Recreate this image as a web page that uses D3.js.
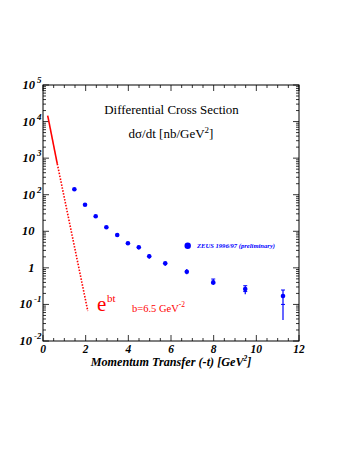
<!DOCTYPE html>
<html>
<head>
<meta charset="utf-8">
<script src="https://cdn.jsdelivr.net/npm/d3@7"></script>
<style>
body { margin: 0; background: #fff; }
text { font-family: "Liberation Serif", "DejaVu Serif", serif; }
</style>
</head>
<body>
<div id="c"></div>
<script>
// ZEUS points: -t, dsigma/dt, total error range
var t_vals  = [1.47, 1.97, 2.47, 2.97, 3.48, 3.98, 4.49, 4.98, 5.73, 6.74, 7.98, 9.48, 11.25];
var y_vals  = [141, 53, 25.7, 12.9, 7.9, 4.7, 3.65, 2.07, 1.33, 0.785, 0.40, 0.264, 0.17];
var err_lo  = [130, 49, 23.5, 11.8, 7.2, 4.2, 3.2, 1.78, 1.15, 0.667, 0.34, 0.189, 0.0375];
var err_hi  = [152, 57, 28, 14, 8.7, 5.2, 4.1, 2.4, 1.47, 0.93, 0.495, 0.325, 0.248];
var stat_lo = [null, null, null, null, null, null, null, null, null, null, 0.37, 0.225, 0.10];

// exp(bt) curve, read at its ends
var fit_solid  = [[0.22, 14500], [0.67, 700]];
var fit_dotted = [[0.67, 700], [2.1, 0.066]];

var x_ticks = [0, 2, 4, 6, 8, 10, 12];
var y_exps  = [-2, -1, 0, 1, 2, 3, 4, 5];

var width = 353, height = 456;
var p_left = 43, p_right = 299, p_top = 85, p_bottom = 341;

var svg = d3.select("#c").append("svg")
	.attr("width", width)
	.attr("height", height);

var x_scale = d3.scaleLinear().domain([0, 12]).range([p_left, p_right]);
var y_scale = d3.scaleLog().domain([0.01, 1e5]).range([p_bottom, p_top]);

// frame
svg.append("rect")
	.attr("x", p_left).attr("y", p_top)
	.attr("width", p_right - p_left).attr("height", p_bottom - p_top)
	.attr("fill", "none").attr("stroke", "#000").attr("stroke-width", 1);

// ticks, log minors on left and right
var minors = [];
for (var e = -2; e < 5; e++) {
	for (var m = 2; m < 10; m++) minors.push(m * Math.pow(10, e));
}
var ay = svg.append("g");
y_exps.forEach(function(e) {
	var y = y_scale(Math.pow(10, e));
	ay.append("line").attr("x1", p_left).attr("x2", p_left + 6).attr("y1", y).attr("y2", y);
	ay.append("line").attr("x1", p_right).attr("x2", p_right - 6).attr("y1", y).attr("y2", y);
});
minors.forEach(function(v) {
	var y = y_scale(v);
	ay.append("line").attr("x1", p_left).attr("x2", p_left + 3).attr("y1", y).attr("y2", y);
	ay.append("line").attr("x1", p_right).attr("x2", p_right - 3).attr("y1", y).attr("y2", y);
});
for (var xv = 0; xv <= 12; xv += 0.5) {
	var len = (xv % 2 === 0) ? 6 : 3;
	var xp = x_scale(xv);
	ay.append("line").attr("x1", xp).attr("x2", xp).attr("y1", p_bottom).attr("y2", p_bottom - len);
	ay.append("line").attr("x1", xp).attr("x2", xp).attr("y1", p_top).attr("y2", p_top + len);
}
ay.selectAll("line").attr("stroke", "#000").attr("stroke-width", 0.8);

// y labels
y_exps.forEach(function(e) {
	var y = y_scale(Math.pow(10, e)) + 4;
	var t = svg.append("text")
		.attr("text-anchor", "end")
		.attr("y", y)
		.attr("font-size", 12.5)
		.attr("font-weight", "bold")
		.attr("font-style", "italic");
	if (e === 0 || e === 1) {
		t.attr("x", 34.5).text(e === 0 ? "1" : "10");
	} else {
		t.attr("x", 41.5);
		t.append("tspan").text("10");
		t.append("tspan").attr("dx", 2).attr("dy", -6).attr("font-size", 9).text(e);
	}
});

// x labels
svg.selectAll(".xl")
	.data(x_ticks)
	.enter()
	.append("text")
	.attr("class", "xl")
	.attr("x", function(d) { return x_scale(d); })
	.attr("y", 353)
	.attr("text-anchor", "middle")
	.attr("font-size", 11.5)
	.attr("font-weight", "bold")
	.attr("font-style", "italic")
	.text(function(d) { return d; });

var xt = svg.append("text")
	.attr("x", 171).attr("y", 366)
	.attr("text-anchor", "middle")
	.attr("font-size", 12.2)
	.attr("font-weight", "bold")
	.attr("font-style", "italic");
xt.append("tspan").text("Momentum Transfer (-t) [GeV");
xt.append("tspan").attr("dy", -5).attr("font-size", 7.5).text("2");
xt.append("tspan").attr("dy", 5).text("]");

// titles inside
svg.append("text")
	.attr("x", 171.5).attr("y", 114)
	.attr("text-anchor", "middle")
	.attr("font-size", 12.9)
	.text("Differential Cross Section");
var st = svg.append("text")
	.attr("x", 171).attr("y", 138)
	.attr("text-anchor", "middle")
	.attr("font-size", 13);
st.append("tspan").text("d\u03c3/dt [nb/GeV");
st.append("tspan").attr("dy", -5).attr("font-size", 9).text("2");
st.append("tspan").attr("dy", 5).text("]");

// fit line
var line = d3.line()
	.x(function(d) { return x_scale(d[0]); })
	.y(function(d) { return y_scale(d[1]); });
svg.append("path").datum(fit_solid)
	.attr("d", line).attr("fill", "none")
	.attr("stroke", "#ff0000").attr("stroke-width", 1.6);
svg.append("path").datum(fit_dotted)
	.attr("d", line).attr("fill", "none")
	.attr("stroke", "#ff0000").attr("stroke-width", 1.6)
	.attr("stroke-dasharray", "1.5,1.5");

svg.append("text").attr("x", 97).attr("y", 311)
	.attr("font-size", 21).attr("fill", "#ff0000").text("e");
svg.append("text").attr("x", 107).attr("y", 302)
	.attr("font-size", 11).attr("fill", "#ff0000").text("bt");
var bt = svg.append("text").attr("x", 132).attr("y", 312)
	.attr("font-size", 10.5).attr("fill", "#ff0000");
bt.append("tspan").text("b=6.5 GeV");
bt.append("tspan").attr("dy", -5).attr("font-size", 7.5).text("-2");

// data points
var pts = t_vals.map(function(t, i) {
	return { t: t, y: y_vals[i], lo: err_lo[i], hi: err_hi[i], s: stat_lo[i] };
});
var g = svg.append("g");
g.selectAll(".eb")
	.data(pts)
	.enter()
	.append("line")
	.attr("x1", function(d) { return x_scale(d.t); })
	.attr("x2", function(d) { return x_scale(d.t); })
	.attr("y1", function(d) { return y_scale(d.lo); })
	.attr("y2", function(d) { return y_scale(d.hi); })
	.attr("stroke", "#0000ff").attr("stroke-width", 1.2);
g.selectAll(".cap")
	.data(pts.filter(function(d) { return d.s; }))
	.enter()
	.append("line")
	.attr("x1", function(d) { return x_scale(d.t) - 2; })
	.attr("x2", function(d) { return x_scale(d.t) + 2; })
	.attr("y1", function(d) { return y_scale(d.hi); })
	.attr("y2", function(d) { return y_scale(d.hi); })
	.attr("stroke", "#0000ff").attr("stroke-width", 1);
g.selectAll(".scap")
	.data(pts.filter(function(d) { return d.s; }))
	.enter()
	.append("line")
	.attr("x1", function(d) { return x_scale(d.t) - 2; })
	.attr("x2", function(d) { return x_scale(d.t) + 2; })
	.attr("y1", function(d) { return y_scale(d.s); })
	.attr("y2", function(d) { return y_scale(d.s); })
	.attr("stroke", "#0000ff").attr("stroke-width", 1);
g.selectAll("circle")
	.data(pts)
	.enter()
	.append("circle")
	.attr("cx", function(d) { return x_scale(d.t); })
	.attr("cy", function(d) { return y_scale(d.y); })
	.attr("r", 2.3)
	.attr("fill", "#0000ff");

// legend
svg.append("circle").attr("cx", 187.7).attr("cy", 245.7).attr("r", 3.2).attr("fill", "#0000ff");
svg.append("text").attr("x", 197).attr("y", 248)
	.attr("font-size", 6.6).attr("font-weight", "bold").attr("font-style", "italic")
	.attr("fill", "#0000ff").text("ZEUS 1996/97 (preliminary)");
</script>
</body>
</html>
